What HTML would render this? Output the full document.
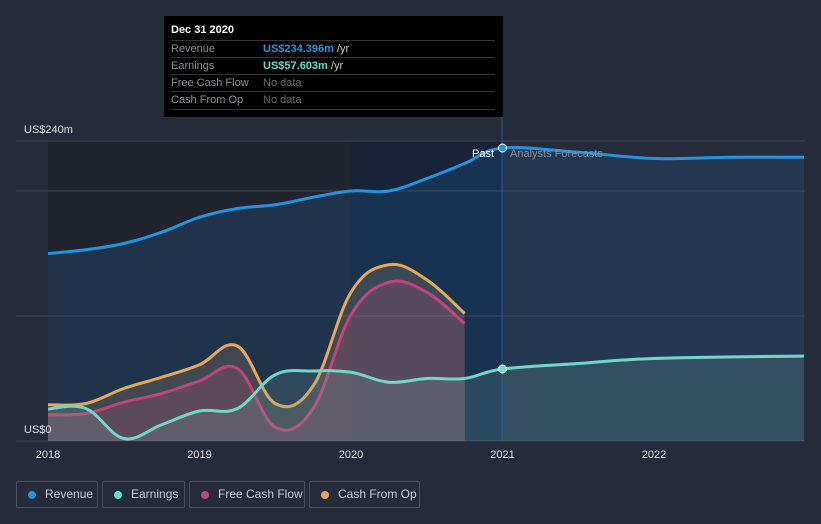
<!DOCTYPE html>
<html><head><meta charset="utf-8">
<style>
body{margin:0;background:#252b38;width:821px;height:524px;overflow:hidden;font-family:"Liberation Sans",sans-serif;}
svg{position:absolute;left:0;top:0}
.leg{position:absolute;top:481px;border:1px solid #4a505c;border-radius:2px;color:#c9ccd2;font-size:12px;line-height:25px;box-sizing:border-box;height:27px}
.leg i{position:absolute;left:11px;top:9px;width:8px;height:8px;border-radius:50%}
.leg span{position:absolute;left:28px}
.tip{position:absolute;left:164px;top:16px;width:339px;height:101px;background:#000;color:#fff;font-size:11px}
.tip .r{position:absolute;left:7px;width:324px;border-top:1px solid #333;height:17px;line-height:17px;color:#8b8f96}
.tip .r b{position:absolute;left:92px;font-weight:normal}
</style></head><body>
<svg id="chart" width="821" height="524"></svg>
<div class="tip">
<div style="position:absolute;left:7px;top:8px;font-weight:bold">Dec 31 2020</div>
<div class="r" style="top:24px">Revenue<b style="color:#2394e0;font-weight:bold">US$234.396m <span style="color:#ccc;font-weight:normal">/yr</span></b></div>
<div class="r" style="top:41px">Earnings<b style="color:#5fe0d0;font-weight:bold">US$57.603m <span style="color:#ccc;font-weight:normal">/yr</span></b></div>
<div class="r" style="top:58px">Free Cash Flow<b style="color:#666">No data</b></div>
<div class="r" style="top:75px;border-bottom:1px solid #333">Cash From Op<b style="color:#666">No data</b></div>
</div>
<div class="leg" style="left:16px;width:82px"><i style="background:#2394e0"></i><span>Revenue</span></div>
<div class="leg" style="left:102px;width:83px"><i style="background:#5fe0d0"></i><span>Earnings</span></div>
<div class="leg" style="left:189px;width:116px"><i style="background:#c0437a"></i><span>Free Cash Flow</span></div>
<div class="leg" style="left:309px;width:111px"><i style="background:#e6a95a"></i><span>Cash From Op</span></div>
<script>
const revT=[2018,2018.25,2018.5,2018.75,2019,2019.25,2019.5,2019.75,2020,2020.25,2020.5,2020.75,2021,2021.5,2022,2022.5,2022.99];
const revV=[150,153,158,167,179,186,189,195,200,200,210,222,234.4,231,226,227,227];
const earnT=[2018,2018.25,2018.5,2018.75,2019,2019.25,2019.5,2019.75,2020,2020.25,2020.5,2020.75,2021,2021.5,2022,2022.99];
const earnV=[25.6,26,2,13,24,26,53,56,55,47,50,50,57.6,62,66,68];
const fcfT=[2018,2018.25,2018.5,2018.75,2019,2019.25,2019.5,2019.75,2020,2020.25,2020.5,2020.75];
const fcfV=[21,22,31,38,48,58,11,26,101,127,119,94];
const cfoT=[2018,2018.25,2018.5,2018.75,2019,2019.25,2019.5,2019.75,2020,2020.25,2020.5,2020.75];
const cfoV=[29,30,42,51,61,76,30,44,119,141,129,102];
const yTicks=[0,240];
const xTicks=[2018,2019,2020,2021,2022];
const X=t=>48+(t-2018)*151.5;
const Y=v=>441-v*1.25;
const NS='http://www.w3.org/2000/svg';
const svg=document.getElementById('chart');
function el(tag,attrs,parent){const e=document.createElementNS(NS,tag);for(const k in attrs)e.setAttribute(k,attrs[k]);(parent||svg).appendChild(e);return e;}
function path(T,V){const p=T.map((t,i)=>[X(t),Y(V[i])]);let d='M'+p[0][0]+','+p[0][1];
for(let i=0;i<p.length-1;i++){const p0=p[i-1]||p[i],p1=p[i],p2=p[i+1],p3=p[i+2]||p2;const k=0.18;
d+=` C${p1[0]+(p2[0]-p0[0])*k},${p1[1]+(p2[1]-p0[1])*k} ${p2[0]-(p3[0]-p1[0])*k},${p2[1]-(p3[1]-p1[1])*k} ${p2[0]},${p2[1]}`;}return d;}
let r=el('rect',{x:48,y:141,width:303,height:300,fill:'#1f242f'});

r=el('rect',{x:351,y:141,width:151,height:300,fill:'#172338'});

[141,191,316,441].forEach(y=>{const l=el('line',{x1:16,x2:805,y1:y,y2:y,stroke:'#3c4350','stroke-width':1});
});
const series=[[revT,revV,'#2394e0','rgba(35,120,200,0.18)','revenue'],[cfoT,cfoV,'#e6a95a','rgba(200,160,110,0.2)','cash-from-op'],[fcfT,fcfV,'#c0437a','rgba(190,80,120,0.22)','free-cash-flow'],[earnT,earnV,'#6fd8c8','rgba(120,170,170,0.2)','earnings']];
series.forEach(([T,V,c,f,n])=>{
const d=path(T,V);
const a=el('path',{d:d+` L${X(T[T.length-1])},441 L${X(T[0])},441 Z`,fill:f});

const l=el('path',{d:d,fill:'none',stroke:c,'stroke-width':3});
});
const v=el('line',{x1:502,x2:502,y1:117,y2:441,stroke:'#2a5a9a','stroke-width':1});

[[234.4,'#2394e0'],[57.6,'#5fe0d0']].forEach(([val,c],i)=>{const d=el('circle',{cx:X(2021),cy:Y(val),r:4,fill:c,stroke:'#fff','stroke-width':1});
});
let t=el('text',{x:494,y:157,fill:'#fff','font-size':11,'text-anchor':'end'});t.textContent='Past';

t=el('text',{x:510,y:157,fill:'#8a8f98','font-size':11});t.textContent='Analysts Forecasts';

yTicks.forEach(v=>{const t=el('text',{x:24,y:Y(v)-8,fill:'#e0e2e6','font-size':11});t.textContent=v?'US$'+v+'m':'US$0';
});
xTicks.forEach(v=>{const t=el('text',{x:X(v),y:458,fill:'#e0e2e6','font-size':11,'text-anchor':'middle'});t.textContent=v;
});
</script>
</body></html>
